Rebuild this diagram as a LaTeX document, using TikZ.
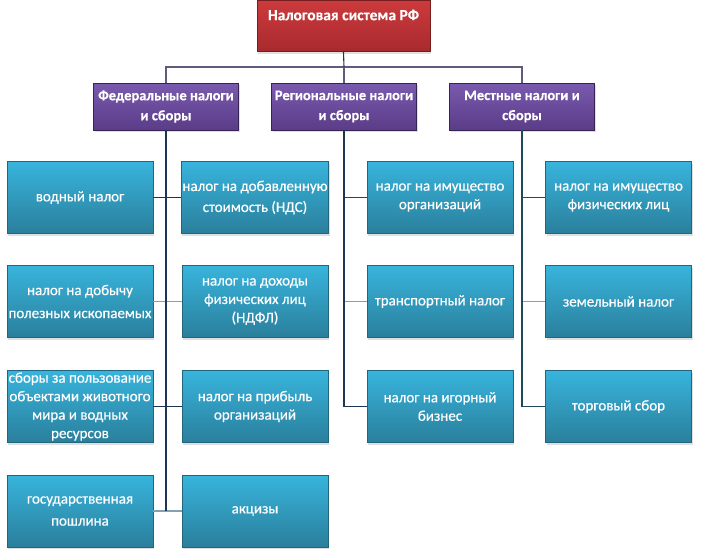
\documentclass[tikz,border=0pt]{standalone}
\usepackage{fontspec}
\setmainfont{Carlito}
\newfontface\leaffont{Carlito}[FakeBold=0.5]
\newfontface\headfont{Carlito Bold}[FakeBold=0.3]
\usetikzlibrary{shadows}
\definecolor{lineDark}{HTML}{1E3552}
\definecolor{lineTeal}{HTML}{1F4A5C}
\definecolor{lineLight}{HTML}{7FA3B0}
\definecolor{barCol}{HTML}{625A7C}
\definecolor{tealTop}{HTML}{38B4DC}
\definecolor{tealBot}{HTML}{2A7F9C}
\definecolor{purTop}{HTML}{7A5AAE}
\definecolor{purBot}{HTML}{5A3C88}
\definecolor{redTop}{HTML}{CC3A3C}
\definecolor{redBot}{HTML}{A82A2E}
\tikzset{
  box/.style={rectangle, align=center, text=white, font=\fontsize{15}{18.5}\selectfont\leaffont,
    inner sep=1pt, drop shadow={shadow xshift=1pt, shadow yshift=-2pt, opacity=0.25}},
  leaf/.style={box, minimum width=146pt, minimum height=72pt, draw=tealBot!80!black, line width=0.6pt,
    top color=tealTop, bottom color=tealBot},
  head/.style={box, minimum width=145pt, minimum height=47pt, draw=purBot!60!black, line width=0.8pt,
    top color=purTop, bottom color=purBot, font=\fontsize{14.5}{20}\selectfont\headfont},
  topbox/.style={box, minimum width=173pt, minimum height=51pt, draw=redBot!70!black, line width=0.8pt,
    top color=redTop, bottom color=redBot},
  conn/.style={draw=lineDark, line width=1.1pt},
  connT/.style={draw=lineTeal, line width=1.1pt},
  connB/.style={draw=barCol, line width=1.1pt},
  connL/.style={draw=lineLight, line width=1.1pt}
}
\begin{document}
\begin{tikzpicture}[x=1pt,y=-1pt]
\useasboundingbox (0,0) rectangle (701,555);
% top
\node[topbox] (top) at (343.5,26) {};
\node[text=white, font=\fontsize{15.5}{17}\selectfont\headfont] (toplbl) at (343.5,15) {Налоговая система РФ};
% heads
\node[head] (fed) at (166,106.5) {Федеральные налоги\\и сборы};
\node[head] (reg) at (344,106.5) {Региональные налоги\\и сборы};
\node[head] (loc) at (522,106.5) {Местные налоги и\\сборы};
\coordinate (bar) at (344,67);
% connectors top
\draw[connB] (fed.north) |- (bar) -| (loc.north);
\draw[connB] (bar) -- (reg.north);
\draw[conn] (top.south) -- (bar);
% federal leaves
\node[leaf] (f1) at (80,197.5) {водный налог};
\node[leaf, font=\fontsize{15}{21}\selectfont\leaffont] (f2) at (255,197.5) {налог на добавленную\\стоимость (НДС)};
\node[leaf, font=\fontsize{15}{23}\selectfont\leaffont] (f3) at (80,301.5) {налог на добычу\\полезных ископаемых};
\node[leaf] (f4) at (255,301.5) {налог на доходы\\физических лиц\\(НДФЛ)};
\node[leaf] (f5) at (80,406.5) {сборы за пользование\\объектами животного\\мира и водных\\ресурсов};
\node[leaf] (f6) at (255,406.5) {налог на прибыль\\организаций};
\node[leaf, font=\fontsize{15}{22}\selectfont\leaffont] (f7) at (80,511) {государственная\\пошлина};
\node[leaf] (f8) at (255,511) {акцизы};
\coordinate (fend) at (166,511);
\draw[conn] (f1.east) -- (f2.west);
\draw[connL] (f3.east) -- (f4.west);
\draw[conn] (f5.east) -- (f6.west);
\draw[connL] (f7.east) -- (f8.west);
\draw[conn] (fed.south) -- (fend);
% regional leaves
\node[leaf] (r1) at (440,197.5) {налог на имущество\\организаций};
\node[leaf] (r2) at (440,301.5) {транспортный налог};
\node[leaf] (r3) at (440,406.5) {налог на игорный\\бизнес};
\coordinate (rmid) at (reg.south |- r2.west);
\draw[connL] (rmid) -- (r2.west);
\draw[connT] (r1.west) -| (reg.south);
\draw[conn] (reg.south) |- (r3.west);
% local leaves
\node[leaf] (l1) at (618.5,197.5) {налог на имущество\\физических лиц};
\node[leaf] (l2) at (618.5,301.5) {земельный налог};
\node[leaf] (l3) at (618.5,406.5) {торговый сбор};
\coordinate (lmid) at (loc.south |- l2.west);
\draw[connL] (lmid) -- (l2.west);
\draw[connT] (l1.west) -| (loc.south);
\draw[connT] (loc.south) |- (l3.west);
\end{tikzpicture}
\end{document}
